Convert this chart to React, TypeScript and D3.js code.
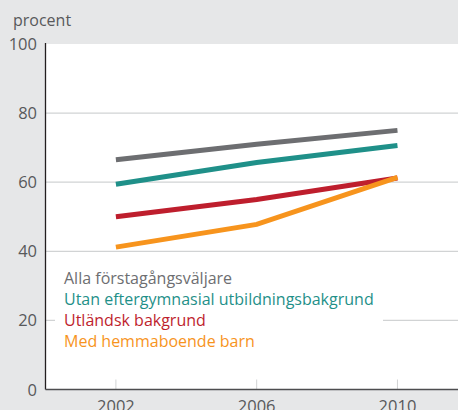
import React, { useEffect, useRef } from 'react';
import * as d3 from 'd3';

const years = [2002, 2006, 2010];
const yTicks = [0, 20, 40, 60, 80, 100];
const allaFirst = [66.5, 71, 75];
const utanEfter = [59.4, 65.7, 70.6];
const utlandsk = [50, 55, 61.2];
const medBarn = [41.2, 47.8, 61.4];

const seriesNames = [
  'Alla förstagångsväljare',
  'Utan eftergymnasial utbildningsbakgrund',
  'Utländsk bakgrund',
  'Med hemmaboende barn',
];
const seriesColors = ['#6d6e71', '#1f9089', '#be1e2d', '#f7941d'];

const App = () => {
  const ref = useRef<SVGSVGElement | null>(null);

  useEffect(() => {
    const width = 458,
      height = 410;
    const svg = d3.select(ref.current);
    svg.selectAll('*').remove();

    const font = "'Open Sans', sans-serif";

    svg.append('rect').attr('width', width).attr('height', height).attr('fill', '#e6e7e8');

    const x = d3.scaleLinear().domain([2000, 2011.72]).range([45.5, 458]);
    const y = d3.scaleLinear().domain([0, 100]).range([389.5, 44]);

    // plot area
    svg
      .append('rect')
      .attr('x', x(2000))
      .attr('y', y(100))
      .attr('width', width - x(2000))
      .attr('height', y(0) - y(100))
      .attr('fill', '#fff');

    // grid
    svg
      .selectAll('.grid')
      .data(yTicks.filter(t => t > 0 && t < 100))
      .enter()
      .append('line')
      .attr('x1', x(2000))
      .attr('x2', width)
      .attr('y1', d => y(d))
      .attr('y2', d => y(d))
      .attr('stroke', '#d1d3d4')
      .attr('stroke-width', 1.2);

    // x tick marks inside the plot
    svg
      .selectAll('.xtick')
      .data(years)
      .enter()
      .append('line')
      .attr('x1', d => x(d))
      .attr('x2', d => x(d))
      .attr('y1', y(0) - 10)
      .attr('y2', y(0))
      .attr('stroke', '#d1d3d4')
      .attr('stroke-width', 1);

    // legend box covering grid
    svg
      .append('rect')
      .attr('x', 55)
      .attr('y', 264)
      .attr('width', 328)
      .attr('height', 90)
      .attr('fill', '#fff');

    const data = [allaFirst, utanEfter, utlandsk, medBarn];
    const line = d3
      .line<number>()
      .x((_, i) => x(years[i]))
      .y(d => y(d));

    svg
      .selectAll('.series')
      .data(data)
      .enter()
      .append('path')
      .attr('d', d => line(d))
      .attr('fill', 'none')
      .attr('stroke', (_, i) => seriesColors[i])
      .attr('stroke-width', 5);

    // axes
    svg
      .append('line')
      .attr('x1', x(2000))
      .attr('x2', x(2000))
      .attr('y1', y(100) - 1)
      .attr('y2', y(0))
      .attr('stroke', '#231f20')
      .attr('stroke-width', 1.3);
    svg
      .append('line')
      .attr('x1', x(2000))
      .attr('x2', width)
      .attr('y1', y(0))
      .attr('y2', y(0))
      .attr('stroke', '#4d4d4f')
      .attr('stroke-width', 1.6);

    svg
      .selectAll('.ylab')
      .data(yTicks)
      .enter()
      .append('text')
      .attr('x', 37)
      .attr('y', d => y(d) + 6)
      .attr('text-anchor', 'end')
      .attr('font-family', font)
      .attr('font-size', 16.5)
      .attr('fill', '#58595b')
      .text(d => d);

    svg
      .selectAll('.xlab')
      .data(years)
      .enter()
      .append('text')
      .attr('x', d => x(d))
      .attr('y', 412)
      .attr('text-anchor', 'middle')
      .attr('font-family', font)
      .attr('font-size', 16.5)
      .attr('fill', '#58595b')
      .text(d => d);

    svg
      .append('text')
      .attr('x', 13)
      .attr('y', 26)
      .attr('font-family', font)
      .attr('font-size', 16)
      .attr('fill', '#58595b')
      .text('procent');

    svg
      .selectAll('.legend')
      .data(seriesNames)
      .enter()
      .append('text')
      .attr('x', 64)
      .attr('y', (_, i) => 284 + i * 21)
      .attr('font-family', font)
      .attr('font-size', 16)
      .attr('fill', (_, i) => seriesColors[i])
      .text(d => d);
  }, []);

  return (
    <svg
      ref={ref}
      width={458}
      height={410}
      style={{ position: 'absolute', left: 0, top: 0, display: 'block' }}
    />
  );
};

export default App;
